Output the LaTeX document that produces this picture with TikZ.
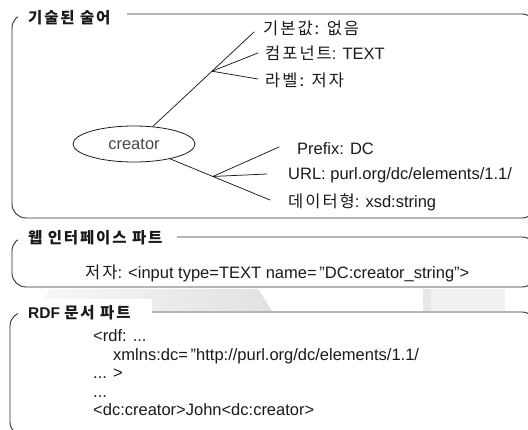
\documentclass[tikz,border=0pt]{standalone}
\usepackage{fontspec}
\setmainfont{Liberation Sans}
\newfontfamily\kr[LetterSpace=12]{Noto Sans CJK KR}
\usetikzlibrary{shapes.geometric,positioning,calc}
\definecolor{ink}{HTML}{1A1A1A}
\definecolor{frame}{HTML}{2E2E2E}
\definecolor{wash}{HTML}{DCDCDC}
\tikzset{
  PartBox/.style={draw=frame, line width=0.9pt, rounded corners=14pt},
  PartTitle/.style={fill=white, anchor=west, inner xsep=10pt, inner ysep=3pt,
    text=ink, font=\bfseries\fontsize{15.5}{18}\selectfont},
  Term/.style={ellipse, draw=ink, line width=0.8pt, minimum width=122pt,
    minimum height=36pt, inner sep=0pt, text=ink!80,
    font=\fontsize{16.5}{19}\selectfont},
  Prop/.style={anchor=west, inner sep=0pt, text=ink,
    font=\fontsize{16.5}{19}\selectfont},
  Code/.style={anchor=base west, inner sep=0pt, text=ink,
    font=\fontsize{16.5}{19}\selectfont},
  Spoke/.style={draw=ink, line width=0.75pt}
}

\begin{document}
\begin{tikzpicture}[x=1pt, y=-1pt, line cap=round, line join=round]
  \useasboundingbox (0,0) rectangle (528,430);
  \clip (0,0) rectangle (528,430);

  % faint watermark between the lower parts
  \shade[left color=wash!20, right color=wash!85] (50,289) -- (258,289) -- (272,311) -- (36,311) -- cycle;
  \fill[wash!40] (423,289) rectangle (505,311);
  \fill[wash!70] (423,289) rectangle (431,311);

  % the three parts
  \draw[PartBox] (12,14) rectangle (536,218);
  \draw[PartBox] (12,237) rectangle (536,287);
  \draw[PartBox] (10,312) rectangle (536,436);

  \node[PartTitle] (termTitle) at (18,18) {\makebox[89pt][l]{\kr 기술된 술어}};
  \node[PartTitle] (webTitle) at (18,238) {\makebox[139pt][l]{\kr 웹 인터페이스 파트}};
  \node[PartTitle, minimum height=28pt] (rdfTitle) at (18,313) {\makebox[114pt][l]{RDF {\kr 문서 파트}}};

  % described term
  \node[Term] (creator) at (134,144) {creator};
  \coordinate (upTip) at (254,32);
  \coordinate (upTipB) at (258,53);
  \coordinate (upTipC) at (258,79);
  \coordinate (upJoint) at ($(creator.center)!0.65!(upTip)$);
  \coordinate (lowTip) at (270,200);
  \coordinate (lowTipA) at (279,147);
  \coordinate (lowTipB) at (267,174);
  \coordinate (lowJoint) at ($(creator.center)!0.58!(lowTip)$);

  \draw[Spoke] (creator) -- (upTip);
  \draw[Spoke] (upJoint) -- (upTipB);
  \draw[Spoke] (upJoint) -- (upTipC);
  \draw[Spoke] (creator) -- (lowTip);
  \draw[Spoke] (lowJoint) -- (lowTipA);
  \draw[Spoke] (lowJoint) -- (lowTipB);

  \node[Prop] (dfltLbl) at (263,28) {\kr 기본값: 없음};
  \node[Prop] (compLbl) at (265,53) {{\kr 컴포넌트}: TEXT};
  \node[Prop] (nameLbl) at (265,80) {\kr 라벨: 저자};
  \node[Prop] (prefixLbl) at (297,149) {Prefix: DC};
  \node[Prop] (urlLbl) at (288,175) {URL: purl.org/dc/elements/1.1/};
  \node[Prop] (typeLbl) at (288,202) {{\kr 데이터형}: xsd:string};

  % web interface part
  \node[Prop] (webField) at (85,273) {{\kr 저자}: <input type=TEXT name=\,”DC:creator\_string”>};

  % rdf document part
  \node[Code] (rdfOpen) at (93,342) {<rdf: ...};
  \node[Code] (rdfNs) at (113,360.5) {xmlns:dc=\,”http://purl.org/dc/elements/1.1/};
  \node[Code] (rdfClose) at (93,379) {... >};
  \node[Code] (rdfGap) at (93,397.5) {...};
  \node[Code] (rdfValue) at (93,416) {<dc:creator>John<dc:creator>};
\end{tikzpicture}
\end{document}
